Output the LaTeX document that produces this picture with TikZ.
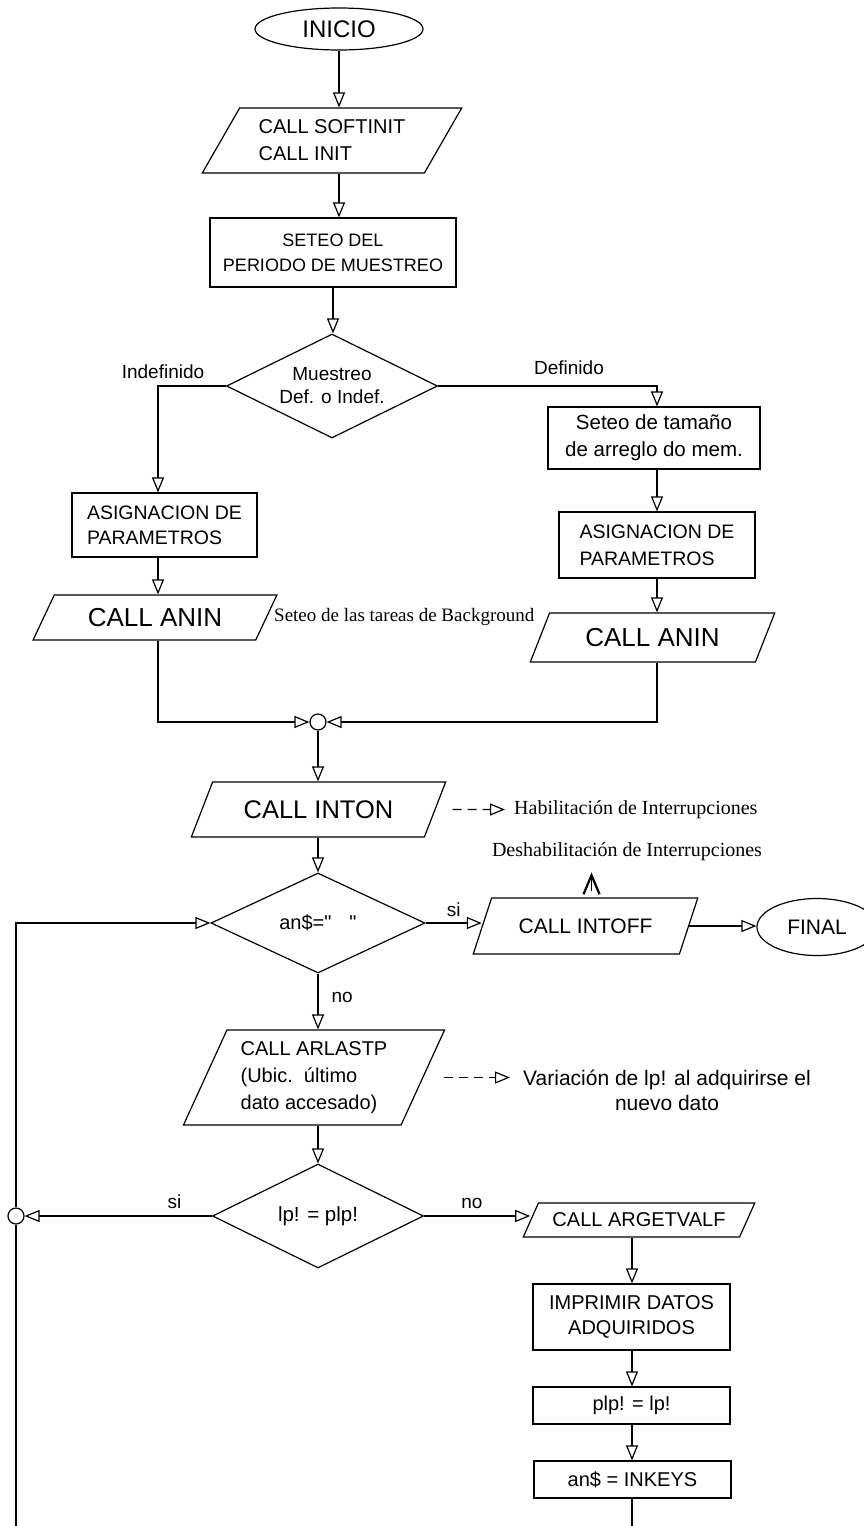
\documentclass[tikz,border=0pt]{standalone}
\usepackage{fontspec}
\setmainfont{Liberation Sans}
\newfontfamily\annfont{Liberation Serif}
\usetikzlibrary{arrows.meta,shapes.geometric}
\tikzset{
  proc/.style={rectangle,draw,line width=1.2pt,inner sep=2pt,align=center,
               font=\fontsize{19.5}{25}\selectfont},
  io/.style={trapezium,trapezium left angle=56,trapezium right angle=124,
             trapezium stretches=true,draw,line width=1.2pt,inner sep=2pt,
             align=center,font=\fontsize{20}{27}\selectfont},
  cond/.style={diamond,draw,line width=1.2pt,inner sep=0pt,aspect=2,
               align=center,font=\fontsize{19}{22}\selectfont},
  term/.style={ellipse,draw,line width=1.2pt,inner sep=0pt,font=\fontsize{21}{25}\selectfont},
  jn/.style={circle,draw,line width=1.2pt,minimum size=16pt,inner sep=0pt},
  fl/.style={-{Triangle[open,length=15pt,width=12pt]},line width=1.2pt},
  ln/.style={line width=1.2pt},
  dfl/.style={fl,dash pattern=on 9pt off 6pt},
  uptip/.style={-{Straight Barb[length=19pt,width=16pt,line width=2.2pt]},line width=1.2pt},
  tag/.style={font=\fontsize{19}{22}\selectfont,inner sep=1pt},
  ann/.style={font=\annfont\fontsize{20}{24}\selectfont,inner sep=1pt}
}
\begin{document}
\begin{tikzpicture}[x=1pt,y=-1pt]
  \useasboundingbox[fill=white] (0,0) rectangle (863,1526);
  \coordinate (colL) at (158,0); \coordinate (colR) at (657,0); \coordinate (colB) at (632,0);
  \coordinate (outL) at (16,1526); \coordinate (outB) at (632,1526);

  \node[term,minimum width=168pt,minimum height=42pt,font=\fontsize{24}{28}\selectfont] (inicio) at (339,29) {INICIO};
  \node[io,align=left,minimum width=260pt,minimum height=65pt] (soft) at (332,140.5) {CALL SOFTINIT\\CALL INIT};
  \node[proc,minimum width=246pt,minimum height=69pt,font=\fontsize{18}{25}\selectfont] (seteo) at (333,252.5) {SETEO DEL\\PERIODO DE MUESTREO};
  \node[cond,minimum width=211pt,minimum height=104pt,font=\fontsize{19}{23}\selectfont] (muest) at (332,386) {Muestreo\\Def. o Indef.};
  \node[tag] (indef) at (163,372) {Indefinido};
  \node[tag] (def) at (569,368) {Definido};

  \node[proc,minimum width=212pt,minimum height=62pt,font=\fontsize{20.5}{27}\selectfont] (tam) at (654,438) {Seteo de tamaño\\de arreglo do mem.};
  \node[proc,align=left,minimum width=196pt,minimum height=66pt,font=\fontsize{19.5}{27}\selectfont] (asigR) at (657,545) {ASIGNACION DE\\PARAMETROS};
  \node[io,trapezium left angle=60,trapezium right angle=120,minimum width=245pt,minimum height=49pt,font=\fontsize{26}{30}\selectfont] (aninR) at (652.5,637.5) {CALL ANIN};
  \node[proc,align=left,minimum width=185pt,minimum height=64pt] (asigL) at (164.5,525) {ASIGNACION DE\\PARAMETROS};
  \node[io,trapezium left angle=57,trapezium right angle=123,minimum width=244pt,minimum height=45pt,font=\fontsize{26}{30}\selectfont] (aninL) at (155,617.5) {CALL ANIN};
  \node[ann,anchor=west,font=\annfont\fontsize{19}{23}\selectfont] (bkg) at (273,617) {Seteo de las tareas de Background};

  \node[jn] (join) at (318,722) {};
  \node[io,trapezium left angle=55,trapezium right angle=125,minimum width=255pt,minimum height=55pt,font=\fontsize{25.5}{30}\selectfont] (inton) at (318.5,809.5) {CALL INTON};
  \node[ann,anchor=west] (habil) at (513,809.5) {Habilitación de Interrupciones};
  \node[ann] (desh) at (627,852) {Deshabilitación de Interrupciones};

  \node[cond,minimum width=214pt,minimum height=100pt,font=\fontsize{20}{24}\selectfont] (ans) at (318,923) {an\$=\textquotedbl\hspace{0.9em}\textquotedbl};
  \node[io,trapezium left angle=54.5,trapezium right angle=125.5,minimum width=225pt,minimum height=56pt,font=\fontsize{21}{25}\selectfont] (intoff) at (585.5,926) {CALL INTOFF};
  \node[term,minimum width=120pt,minimum height=57pt] (final) at (817,927) {FINAL};

  \node[io,align=left,trapezium left angle=63.7,trapezium right angle=116.3,minimum width=262pt,minimum height=95pt] (arlastp) at (314,1077.5) {CALL ARLASTP\\(Ubic.\ \ último\\dato accesado)};
  \node[tag,align=center,font=\fontsize{21}{25}\selectfont] (var) at (667,1090) {Variación de lp! al adquirirse el\\nuevo dato};

  \node[cond,minimum width=211pt,minimum height=104pt,font=\fontsize{20.5}{24}\selectfont] (lp) at (318,1216) {lp! = plp!};
  \node[jn] (loopc) at (16,1216) {};
  \node[io,trapezium left angle=53.7,trapezium right angle=126.3,minimum width=232pt,minimum height=34pt] (argv) at (639,1220) {CALL ARGETVALF};
  \node[proc,minimum width=197pt,minimum height=66pt,font=\fontsize{20}{25}\selectfont] (impr) at (631.5,1317) {IMPRIMIR DATOS\\ADQUIRIDOS};
  \node[proc,minimum width=197pt,minimum height=37pt,font=\fontsize{20}{24}\selectfont] (plp) at (631.5,1405.5) {plp! = lp!};
  \node[proc,minimum width=197pt,minimum height=37pt,font=\fontsize{20}{24}\selectfont] (inkey) at (632.5,1479.5) {an\$ = INKEYS};

  \draw[fl] (inicio.south) -- (inicio.south |- soft.north);
  \draw[fl] (soft.south -| inicio) -- (seteo.north -| inicio);
  \draw[fl] (seteo.south) -- (seteo.south |- muest.north);
  \draw[fl] (muest.west) -| (asigL.north -| colL);
  \draw[fl] (asigL.south -| colL) -- (aninL.north -| colL);
  \draw[fl] (aninL.south -| colL) |- (join.west);
  \draw[fl] (muest.east) -| (tam.north -| colR);
  \draw[fl] (tam.south -| colR) -- (asigR.north -| colR);
  \draw[fl] (asigR.south -| colR) -- (aninR.north -| colR);
  \draw[fl] (aninR.south -| colR) |- (join.east);
  \draw[fl] (join.south) -- (join.south |- inton.north);
  \draw[dfl,shorten >=8pt] ([xshift=17pt]inton.east) -- (habil.west);
  \draw[fl] (inton.south -| ans) -- (ans.north);
  \draw[fl] (ans.east) -- (ans.east -| intoff.west) node[tag,midway,above=5pt] {si};
  \draw[uptip] ([xshift=6pt,yshift=6pt]intoff.north) -- ([xshift=6pt,yshift=25pt]intoff.north);
  \draw[fl] (intoff.east) -- (intoff.east -| final.west);
  \draw[fl] (ans.south) -- (ans.south |- arlastp.north) node[tag,pos=0.42,right=12pt] {no};
  \draw[dfl,shorten >=12pt] ([xshift=21pt]arlastp.east) -- (var.west |- arlastp.east);
  \draw[fl] (lp.north |- arlastp.south) -- (lp.north);
  \draw[fl] (lp.east) -- (lp.east -| argv.west) node[tag,pos=0.45,above=6pt] {no};
  \draw[fl] (lp.west) -- (loopc.east) node[tag,pos=0.2,above=6pt] {si};
  \draw[fl] (argv.south -| colB) -- (impr.north -| colB);
  \draw[fl] (impr.south -| colB) -- (plp.north -| colB);
  \draw[fl] (plp.south -| colB) -- (inkey.north -| colB);
  \draw[ln] (inkey.south -| colB) -- (outB);
  \draw[ln] (outL) -- (loopc.south);
  \draw[fl] (loopc.north) |- (ans.west);
\end{tikzpicture}
\end{document}
